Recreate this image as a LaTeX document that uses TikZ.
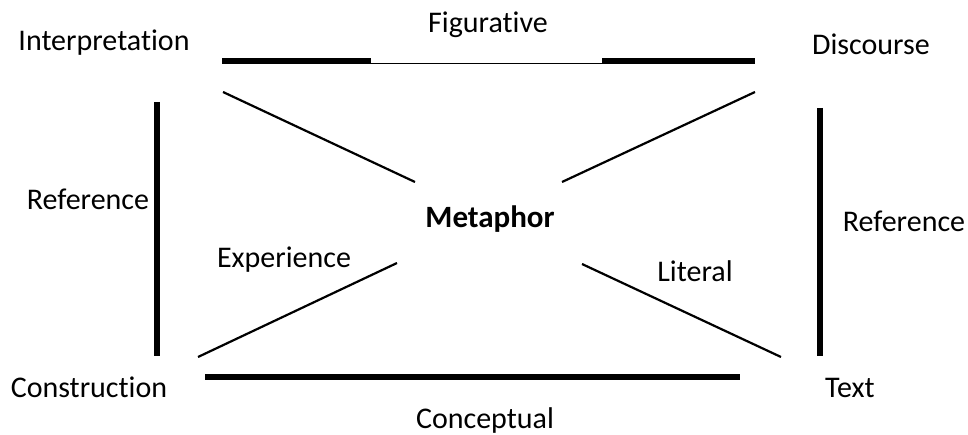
\documentclass[tikz,border=0pt]{standalone}
\usepackage{fontspec}
\setmainfont{Carlito}[Ligatures={NoCommon,NoContextual}]
\begin{document}
\begin{tikzpicture}[x=1pt,y=-1pt,
  lbl/.style={anchor=base,inner sep=0pt,font=\fontsize{30}{32}\selectfont},
  thickbar/.style={line width=5.5pt},
  thinbar/.style={line width=1.5pt},
  diag/.style={line width=2.2pt}]
\useasboundingbox[fill=white] (0,0) rectangle (968,435);
% labels
\node[lbl] (interp) at (104,51) {Interpretation};
\node[lbl] (fig) at (488,33) {Figurative};
\node[lbl] (disc) at (871,55) {Discourse};
\node[lbl] (refl) at (88,210) {Reference};
\node[lbl,font=\fontsize{31}{34}\selectfont\bfseries] (meta) at (490,228) {Metaphor};
\node[lbl] (exp) at (284,268) {Experience};
\node[lbl] (lit) at (695,282) {Literal};
\node[lbl] (refr) at (904,232) {Reference};
\node[lbl] (cons) at (89,397) {Construction};
\node[lbl] (text) at (850,397) {Text};
\node[lbl] (conc) at (485,428) {Conceptual};
% end points
\coordinate (t1) at (222,61);
\coordinate (t2) at (371,61);
\coordinate (t3) at (602,61);
\coordinate (t4) at (755,61);
\coordinate (m2) at (371,63.3);
\coordinate (m3) at (602,63.3);
\coordinate (l1) at (157,102);
\coordinate (l2) at (157,356);
\coordinate (r1) at (820,108);
\coordinate (r2) at (820,356);
\coordinate (b1) at (205,377);
\coordinate (b2) at (740,377);
\coordinate (d1a) at (223,92);
\coordinate (d1b) at (415,182);
\coordinate (d2a) at (755,92);
\coordinate (d2b) at (562,182);
\coordinate (d3a) at (198,357);
\coordinate (d3b) at (397,263);
\coordinate (d4a) at (582,264);
\coordinate (d4b) at (781,357);
% lines
\draw[thickbar] (t1) -- (t2);
\draw[thinbar] (m2) -- (m3);
\draw[thickbar] (t3) -- (t4);
\draw[thickbar] (l1) -- (l2);
\draw[thickbar] (r1) -- (r2);
\draw[thickbar] (b1) -- (b2);
\draw[diag] (d1a) -- (d1b);
\draw[diag] (d2a) -- (d2b);
\draw[diag] (d3a) -- (d3b);
\draw[diag] (d4a) -- (d4b);
\end{tikzpicture}
\end{document}
